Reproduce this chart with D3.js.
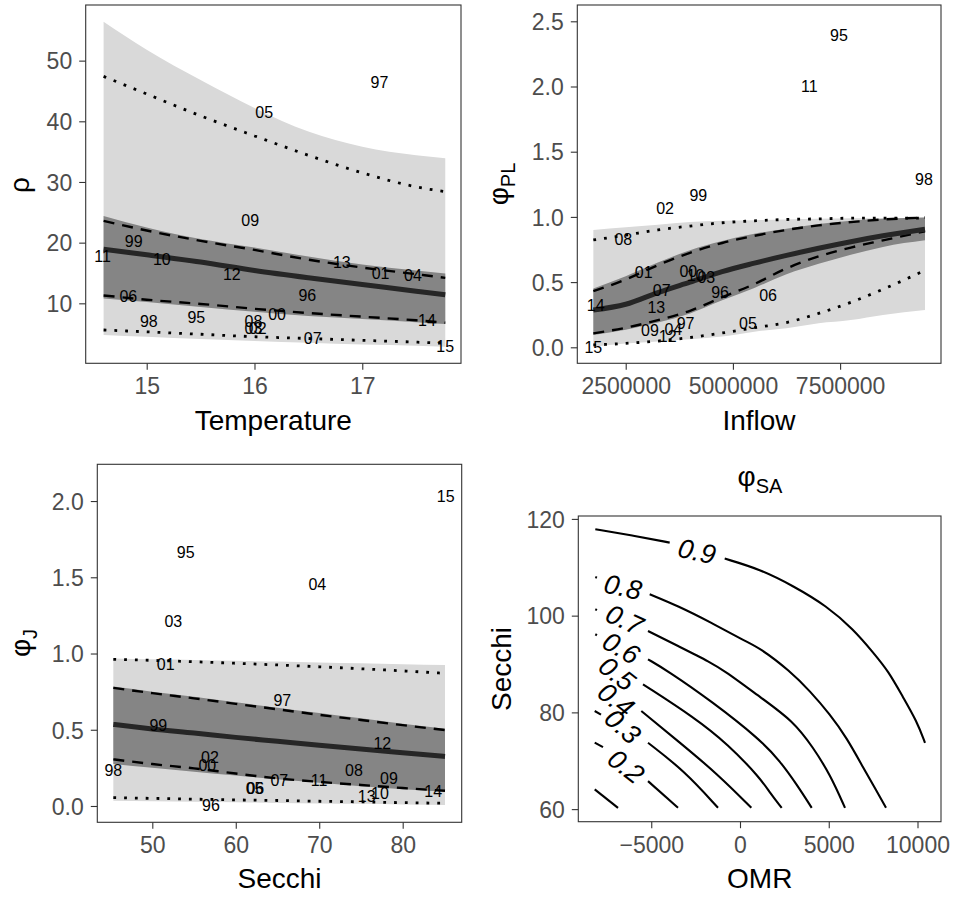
<!DOCTYPE html>
<html>
<head>
<meta charset="utf-8">
<script src="https://d3js.org/d3.v7.min.js"></script>
<style>
  body { margin: 0; background: #fff; }
  text { font-family: "Liberation Sans", Arial, sans-serif; }
  .axis text { fill: #4d4d4d; font-size: 23px; }
  .axis line { stroke: #333; stroke-width: 1.1px; }
  .axis path { display: none; }
  .lab { font-size: 16px; fill: #000; text-anchor: middle; }
  .ttl { font-size: 28px; fill: #000; }
  .clab { font-size: 27px; font-style: italic; fill: #000; text-anchor: middle; }
</style>
</head>
<body>
<div id="chart"></div>
<script>
// ---- panel 1: rho vs Temperature ----
var p1Grid     = [14.6, 15.0, 15.5, 16.0, 16.5, 17.0, 17.5, 17.77];
var p1Mean     = [18.9, 18.0, 16.8, 15.4, 14.2, 13.1, 12.0, 11.4];
var p1DashLo   = [11.3, 10.6, 9.9, 9.1, 8.4, 7.8, 7.2, 6.8];
var p1DashHi   = [23.6, 22.0, 20.3, 18.8, 17.2, 15.9, 14.8, 14.2];
var p1DotLo    = [5.6, 5.3, 4.9, 4.5, 4.2, 3.9, 3.6, 3.4];
var p1DotHi    = [47.4, 44.5, 40.9, 37.6, 34.4, 31.5, 29.2, 28.4];
var p1DarkLo   = [10.8, 10.2, 9.4, 8.6, 7.9, 7.4, 6.9, 6.6];
var p1DarkHi   = [24.4, 22.5, 20.6, 19.2, 17.7, 16.4, 15.4, 14.9];
var p1LightLo  = [4.8, 4.5, 4.1, 3.8, 3.5, 3.2, 3.0, 2.85];
var p1LightHi  = [56.4, 51.8, 46.8, 42.2, 38.3, 35.8, 34.4, 33.9];
var p1Years = ['97','05','09','99','11','10','12','13','01','04','96','06','00','14','98','95','08','03','02','07','15'];
var p1LabX  = [17.16,16.09,15.96,14.88,14.59,15.14,15.79,16.81,17.17,17.47,16.49,14.83,16.21,17.60,15.02,15.46,15.99,15.99,16.03,16.54,17.77];
var p1LabY  = [46.5,41.5,23.7,20.2,17.7,17.3,14.8,16.8,15.0,14.7,11.3,11.1,8.2,7.25,7.1,7.7,7.0,5.9,5.9,4.3,3.0];

// ---- panel 2: phi_PL vs Inflow ----
var p2Grid     = [1.745e6, 2.5e6, 3.25e6, 4.0e6, 4.75e6, 5.5e6, 6.25e6, 7.0e6, 7.75e6, 8.5e6, 9.48e6];
var p2Mean     = [0.286, 0.33, 0.42, 0.50, 0.58, 0.645, 0.705, 0.76, 0.81, 0.855, 0.905];
var p2DashLo   = [0.107, 0.15, 0.208, 0.28, 0.384, 0.485, 0.605, 0.697, 0.765, 0.82, 0.89];
var p2DashHi   = [0.43, 0.52, 0.63, 0.725, 0.80, 0.855, 0.90, 0.935, 0.96, 0.98, 0.995];
var p2DotLo    = [0.018, 0.03, 0.048, 0.075, 0.11, 0.15, 0.19, 0.26, 0.345, 0.445, 0.59];
var p2DotHi    = [0.823, 0.86, 0.9, 0.93, 0.955, 0.97, 0.98, 0.985, 0.99, 0.99, 0.99];
var p2DarkLo   = [0.095, 0.135, 0.19, 0.26, 0.36, 0.455, 0.56, 0.64, 0.71, 0.77, 0.82];
var p2DarkHi   = [0.45, 0.545, 0.65, 0.745, 0.815, 0.87, 0.91, 0.945, 0.97, 0.985, 0.995];
var p2LightLo  = [0.005, 0.03, 0.045, 0.061, 0.082, 0.12, 0.146, 0.184, 0.209, 0.248, 0.286];
var p2LightHi  = [0.9, 0.92, 0.94, 0.96, 0.97, 0.975, 0.98, 0.985, 0.99, 0.99, 0.995];
var p2Years = ['95','11','98','99','02','08','01','00','10','03','07','96','06','14','13','97','05','09','04','12','15'];
var p2LabX  = [7.474e6,6.782e6,9.457e6,4.193e6,3.417e6,2.444e6,2.92e6,3.96e6,4.13e6,4.38e6,3.34e6,4.70e6,5.82e6,1.80e6,3.215e6,3.895e6,5.35e6,3.067e6,3.61e6,3.48e6,1.744e6];
var p2LabY  = [2.395,1.999,1.288,1.168,1.066,0.832,0.576,0.585,0.55,0.54,0.437,0.424,0.401,0.324,0.307,0.184,0.186,0.127,0.136,0.081,0.003];

// ---- panel 3: phi_J vs Secchi ----
var p3Grid     = [45.33, 50, 55, 60, 65, 70, 75, 80, 85.07];
var p3Mean     = [0.535, 0.505, 0.478, 0.45, 0.424, 0.398, 0.373, 0.349, 0.325];
var p3DashLo   = [0.306, 0.275, 0.247, 0.213, 0.181, 0.158, 0.138, 0.118, 0.1];
var p3DashHi   = [0.775, 0.74, 0.706, 0.67, 0.634, 0.598, 0.564, 0.53, 0.498];
var p3DotLo    = [0.055, 0.05, 0.045, 0.04, 0.036, 0.031, 0.027, 0.022, 0.018];
var p3DotHi    = [0.962, 0.955, 0.946, 0.936, 0.925, 0.913, 0.9, 0.886, 0.87];
var p3DarkLo   = [0.275, 0.25, 0.225, 0.2, 0.175, 0.152, 0.13, 0.11, 0.093];
var p3DarkHi   = [0.783, 0.75, 0.716, 0.68, 0.645, 0.61, 0.575, 0.54, 0.507];
var p3LightLo  = [0.035, 0.031, 0.027, 0.024, 0.02, 0.017, 0.014, 0.01, 0.007];
var p3LightHi  = [0.968, 0.963, 0.958, 0.952, 0.947, 0.941, 0.936, 0.93, 0.925];
var p3Years = ['15','95','04','03','01','97','99','12','02','00','98','08','09','07','11','05','06','13','10','14','96'];
var p3LabX  = [85.15,54.0,69.77,52.52,51.6,65.58,50.72,77.56,56.91,56.59,45.33,74.16,78.36,65.22,69.97,62.25,62.35,75.69,77.28,83.66,57.03];
var p3LabY  = [2.033,1.663,1.456,1.213,0.931,0.691,0.527,0.411,0.319,0.264,0.236,0.232,0.181,0.166,0.166,0.116,0.116,0.061,0.083,0.094,0.007];

// ---- panel 4: phi_SA contours over OMR x Secchi ----
var contourLevels = ['0.1','0.2','0.3','0.4','0.5','0.6','0.7','0.8','0.9'];
// pieces of each contour line, [OMR, Secchi]; gaps are where labels sit
var contourPieces = [
  [[[-8186,64.08],[-6873,60.27]]],
  [[[-8186,73.76],[-7719,72.83]], [[-5183,65.79],[-3493,60.27]]],
  [[[-8186,80.28],[-7831,79.55]], [[-5183,73.72],[-3116,67.86],[-1239,60.27]]],
  [[[-5561,80.28],[-3493,74.07],[-1239,67.18],[637,60.27]]],
  [[[-5465,85.80],[-2552,78.89],[-676,73.39],[1127,66.48],[1690,63.37],[2349,60.27]]],
  [[[-8152,96.15],[-8060,95.95]], [[-5183,90.97],[-4056,88.55],[-1617,82.35],[1127,74.42],[2254,69.93],[3194,65.11],[4040,60.27]]],
  [[[-8152,101.32],[-8060,101.15]], [[-5183,96.83],[-3493,93.72],[-1617,90.27],[-862,88.55],[1127,83.17],[3003,78.21],[4130,72.68],[5071,67.18],[5916,60.27]]],
  [[[-8152,108.0],[-8060,107.85]], [[-5088,104.42],[-3493,102.0],[-1617,98.55],[265,94.76],[1127,93.31],[2817,88.55],[3944,84.41],[5071,79.59],[6011,74.75],[6947,68.55],[7702,63.72],[8226,60.27]]],
  [[[-8152,117.87],[-6085,116.59],[-3961,115.10]], [[-862,111.79],[1127,109.60],[3003,106.14],[4885,102.0],[6383,97.18],[7510,92.34],[8355,88.55],[9200,83.03],[9955,78.21],[10423,73.72]]]
];
var contourLabX = [null, -6406, -6592, -6969, -6912, -6688, -6496, -6592, -2423];
var contourLabY = [null, 68.90, 77.17, 82.70, 88.08, 93.37, 99.25, 106.0, 113.38];
var contourLabAngle = [0, 38, 42, 38, 38, 30, 25, 12, 12];

var W = 955, H = 897;
var svg = d3.select('#chart').append('svg')
  .attr('width', W).attr('height', H);

var clipId = 0;
function frame(box, xDom, yDom) {
  var x = d3.scaleLinear().domain(xDom).range([box.left, box.right]);
  var y = d3.scaleLinear().domain(yDom).range([box.bottom, box.top]);
  var id = 'clip' + (clipId++);
  svg.append('clipPath').attr('id', id).append('rect')
    .attr('x', box.left).attr('y', box.top)
    .attr('width', box.right - box.left).attr('height', box.bottom - box.top);
  var g = svg.append('g').attr('clip-path', 'url(#' + id + ')');
  return {x: x, y: y, g: g};
}

function axes(box, x, y, xTicks, yTicks, xFmt, yFmt) {
  svg.append('g').attr('class', 'axis')
    .attr('transform', 'translate(0,' + box.bottom + ')')
    .call(d3.axisBottom(x).tickValues(xTicks).tickFormat(xFmt).tickSizeOuter(0).tickSize(6.5).tickPadding(8));
  svg.append('g').attr('class', 'axis')
    .attr('transform', 'translate(' + box.left + ',0)')
    .call(d3.axisLeft(y).tickValues(yTicks).tickFormat(yFmt).tickSizeOuter(0).tickSize(6.5).tickPadding(7))
    .selectAll('text').attr('dy', '0.36em');
  svg.append('rect')
    .attr('x', box.left).attr('y', box.top)
    .attr('width', box.right - box.left).attr('height', box.bottom - box.top)
    .attr('fill', 'none').attr('stroke', '#333').attr('stroke-width', 1.1);
}

function ribbonPanel(box, xDom, yDom, d, xTicks, yTicks, xFmt, yFmt) {
  var f = frame(box, xDom, yDom), x = f.x, y = f.y, g = f.g;
  var idx = d3.range(d.grid.length);
  function band(lo, hi, fill) {
    g.append('path').datum(idx)
      .attr('fill', fill)
      .attr('d', d3.area().curve(d3.curveMonotoneX)
        .x(function(i){ return x(d.grid[i]); })
        .y0(function(i){ return y(lo[i]); })
        .y1(function(i){ return y(hi[i]); }));
  }
  function line(vals, w, dash, col) {
    g.append('path').datum(idx)
      .attr('fill', 'none').attr('stroke', col).attr('stroke-width', w)
      .attr('stroke-dasharray', dash)
      .attr('d', d3.line().curve(d3.curveMonotoneX)
        .x(function(i){ return x(d.grid[i]); })
        .y(function(i){ return y(vals[i]); }));
  }
  band(d.lightLo, d.lightHi, '#d9d9d9');
  band(d.darkLo, d.darkHi, '#858585');
  line(d.dotLo, 2.8, '2.8,8', '#000');
  line(d.dotHi, 2.8, '2.8,8', '#000');
  line(d.dashLo, 2.4, '11,8', '#000');
  line(d.dashHi, 2.4, '11,8', '#000');
  line(d.mean, 5, null, '#262626');
  svg.append('g').selectAll('text').data(d.years).enter().append('text')
    .attr('class', 'lab')
    .attr('x', function(t, i){ return x(d.labX[i]); })
    .attr('y', function(t, i){ return y(d.labY[i]); })
    .attr('dy', '0.36em')
    .text(function(t){ return t; });
  axes(box, x, y, xTicks, yTicks, xFmt, yFmt);
}

var fmt1 = d3.format('.1f'), fmt0 = d3.format('d');

ribbonPanel({left: 85.7, right: 461, top: 5, bottom: 363.3}, [14.434, 17.916], [0.115, 59.17],
  {grid: p1Grid, mean: p1Mean, dashLo: p1DashLo, dashHi: p1DashHi, dotLo: p1DotLo, dotHi: p1DotHi,
   darkLo: p1DarkLo, darkHi: p1DarkHi, lightLo: p1LightLo, lightHi: p1LightHi,
   years: p1Years, labX: p1LabX, labY: p1LabY},
  [15, 16, 17], [10, 20, 30, 40, 50], fmt0, fmt0);

ribbonPanel({left: 577.3, right: 941, top: 5, bottom: 363.3}, [1.371e6, 9.853e6], [-0.1227, 2.625],
  {grid: p2Grid, mean: p2Mean, dashLo: p2DashLo, dashHi: p2DashHi, dotLo: p2DotLo, dotHi: p2DotHi,
   darkLo: p2DarkLo, darkHi: p2DarkHi, lightLo: p2LightLo, lightHi: p2LightHi,
   years: p2Years, labX: p2LabX, labY: p2LabY},
  [2.5e6, 5e6, 7.5e6], [0, 0.5, 1, 1.5, 2, 2.5], fmt0, fmt1);

ribbonPanel({left: 97.3, right: 461.7, top: 464.3, bottom: 822.3}, [43.41, 87.07], [-0.107, 2.241],
  {grid: p3Grid, mean: p3Mean, dashLo: p3DashLo, dashHi: p3DashHi, dotLo: p3DotLo, dotHi: p3DotHi,
   darkLo: p3DarkLo, darkHi: p3DarkHi, lightLo: p3LightLo, lightHi: p3LightHi,
   years: p3Years, labX: p3LabX, labY: p3LabY},
  [50, 60, 70, 80], [0, 0.5, 1, 1.5, 2], fmt0, fmt1);

// contour panel
(function() {
  var box = {left: 578.3, right: 941, top: 516, bottom: 821.7};
  var f = frame(box, [-9110, 11324], [57.4, 120.6]), x = f.x, y = f.y, g = f.g;
  var ln = d3.line().curve(d3.curveBasis)
    .x(function(p){ return x(p[0]); }).y(function(p){ return y(p[1]); });
  contourPieces.forEach(function(pieces) {
    pieces.forEach(function(pts) {
      g.append('path').datum(pts)
        .attr('fill', 'none').attr('stroke', '#000').attr('stroke-width', 2.1)
        .attr('d', ln);
    });
  });
  contourLevels.forEach(function(lv, i) {
    if (contourLabX[i] === null) return;
    var cx = x(contourLabX[i]), cy = y(contourLabY[i]);
    svg.append('text').attr('class', 'clab')
      .attr('transform', 'translate(' + cx + ',' + cy + ') rotate(' + contourLabAngle[i] + ')')
      .attr('dy', '0.36em')
      .text(lv);
  });
  var minus = function(v){ return d3.format('d')(v).replace('-', '\u2212'); };
  axes(box, x, y, [-5000, 0, 5000, 10000], [60, 80, 100, 120], minus, fmt0);
})();

// axis titles
function xTitle(cx, base, t) {
  svg.append('text').attr('class', 'ttl').attr('x', cx).attr('y', base)
    .attr('text-anchor', 'middle').text(t);
}
xTitle(273.3, 430, 'Temperature');
xTitle(759, 430, 'Inflow');
xTitle(279.5, 888, 'Secchi');
xTitle(759.7, 888, 'OMR');

function yTitle(bx, cy, main, sub) {
  var t = svg.append('text').attr('class', 'ttl')
    .attr('transform', 'translate(' + bx + ',' + cy + ') rotate(-90)')
    .attr('text-anchor', 'middle');
  t.append('tspan').text(main);
  if (sub) t.append('tspan').attr('dy', 7).attr('font-size', '20px').text(sub);
}
yTitle(29, 185, '\u03c1');
yTitle(508, 184, '\u03c6', 'PL');
yTitle(30, 643, '\u03c6', 'J');
yTitle(511, 669, 'Secchi');

// panel 4 title
var tt = svg.append('text').attr('class', 'ttl').attr('x', 760).attr('y', 486)
  .attr('text-anchor', 'middle');
tt.append('tspan').text('\u03c6');
tt.append('tspan').attr('dy', 7).attr('font-size', '20px').text('SA');
</script>
</body>
</html>
